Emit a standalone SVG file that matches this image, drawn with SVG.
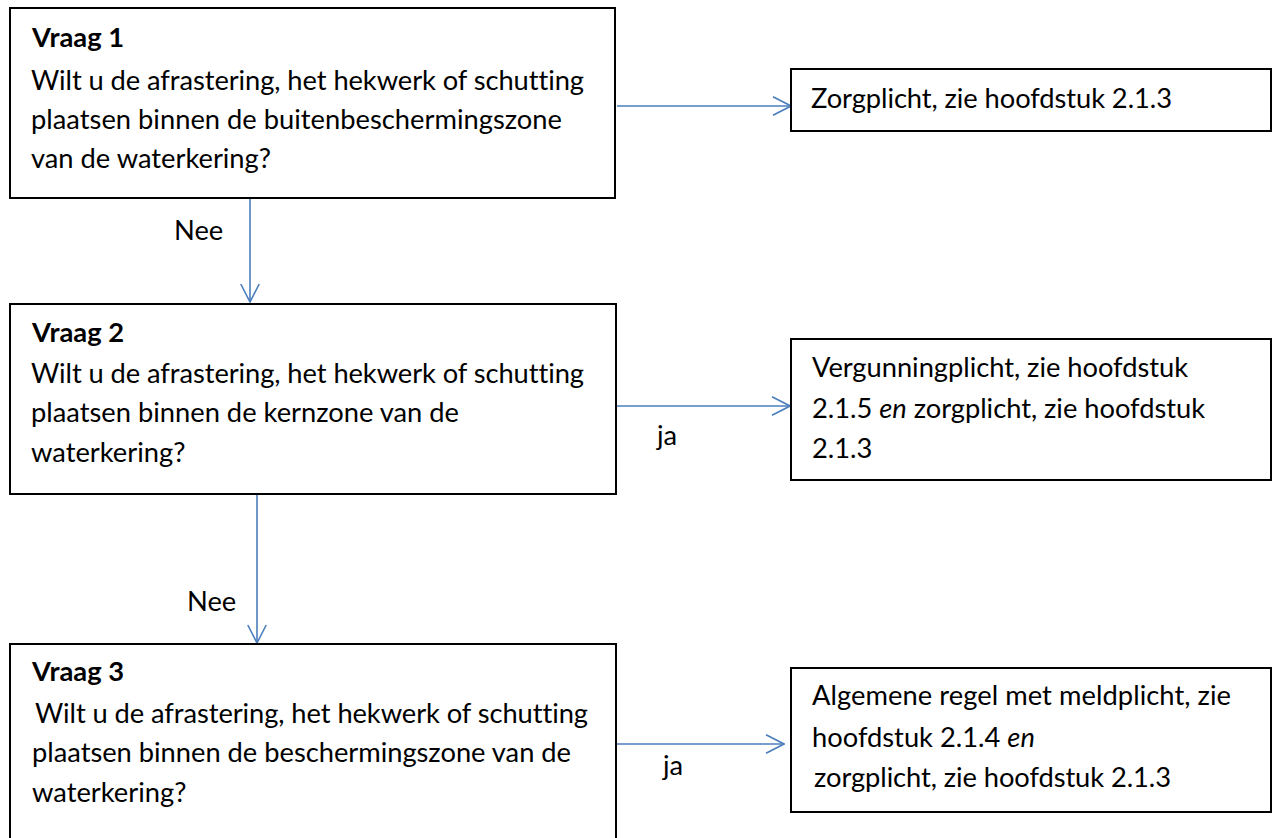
<svg xmlns="http://www.w3.org/2000/svg" width="1273" height="838" viewBox="0 0 1273 838">
  <style>
    .box { fill: #ffffff; stroke: #000000; stroke-width: 2; }
    .t { font-family: Lato, "Open Sans", "Liberation Sans", sans-serif; font-size: 27.3px; fill: #000000; font-variant-ligatures: none; font-feature-settings: "liga" 0; }
    .b { font-weight: bold; }
    .i { font-style: italic; }
    .conn { stroke: #4A7EBB; stroke-width: 1.6; fill: none; }
  </style>
  <defs>
    <marker id="arrow" markerUnits="userSpaceOnUse" viewBox="0 0 20 20" refX="19" refY="10" markerWidth="20" markerHeight="20" orient="auto">
      <path d="M1,0.8 L19,10 L1,19.2" fill="none" stroke="#4A7EBB" stroke-width="1.6"/>
    </marker>
  </defs>
  <rect width="1273" height="838" fill="#ffffff"/>

  <g id="connectors">
    <line class="conn" x1="617" y1="106" x2="791" y2="106" marker-end="url(#arrow)"/>
    <line class="conn" x1="250" y1="199" x2="250" y2="302" marker-end="url(#arrow)"/>
    <line class="conn" x1="617" y1="406" x2="790" y2="406" marker-end="url(#arrow)"/>
    <line class="conn" x1="257" y1="495" x2="257" y2="643" marker-end="url(#arrow)"/>
    <line class="conn" x1="617" y1="744" x2="784" y2="744" marker-end="url(#arrow)"/>
    <text class="t" x="174" y="240">Nee</text>
    <text class="t" x="187" y="611">Nee</text>
    <text class="t" x="657" y="445">ja</text>
    <text class="t" x="663" y="775">ja</text>
  </g>

  <g id="vraag1">
    <rect class="box" x="10" y="8" width="605" height="190"/>
    <text class="t b" x="32" y="47">Vraag 1</text>
    <text class="t" x="31" y="90" textLength="553">Wilt u de afrastering, het hekwerk of schutting</text>
    <text class="t" x="31" y="129" textLength="531">plaatsen binnen de buitenbeschermingszone</text>
    <text class="t" x="31" y="168" textLength="240">van de waterkering?</text>
  </g>

  <g id="zorgplicht1">
    <rect class="box" x="791" y="69" width="480" height="62"/>
    <text class="t" x="811" y="108" textLength="361">Zorgplicht, zie hoofdstuk 2.1.3</text>
  </g>

  <g id="vraag2">
    <rect class="box" x="10" y="304" width="606" height="190"/>
    <text class="t b" x="32" y="342">Vraag 2</text>
    <text class="t" x="31" y="383" textLength="553">Wilt u de afrastering, het hekwerk of schutting</text>
    <text class="t" x="31" y="422">plaatsen binnen de kernzone van de</text>
    <text class="t" x="31" y="462">waterkering?</text>
  </g>

  <g id="vergunningplicht">
    <rect class="box" x="791" y="339" width="480" height="141"/>
    <text class="t" x="812" y="377" textLength="376">Vergunningplicht, zie hoofdstuk</text>
    <text class="t" x="812" y="418" textLength="393">2.1.5 <tspan class="i">en</tspan> zorgplicht, zie hoofdstuk</text>
    <text class="t" x="812" y="458">2.1.3</text>
  </g>

  <g id="vraag3">
    <rect class="box" x="10" y="644" width="606" height="204"/>
    <text class="t b" x="32" y="681">Vraag 3</text>
    <text class="t" x="35" y="723" textLength="553">Wilt u de afrastering, het hekwerk of schutting</text>
    <text class="t" x="32" y="762" textLength="539">plaatsen binnen de beschermingszone van de</text>
    <text class="t" x="32" y="802">waterkering?</text>
  </g>

  <g id="meldplicht">
    <rect class="box" x="791" y="668" width="480" height="144"/>
    <text class="t" x="812" y="705" textLength="419">Algemene regel met meldplicht, zie</text>
    <text class="t" x="812" y="747">hoofdstuk 2.1.4 <tspan class="i">en</tspan></text>
    <text class="t" x="814" y="787" textLength="357">zorgplicht, zie hoofdstuk 2.1.3</text>
  </g>
</svg>
